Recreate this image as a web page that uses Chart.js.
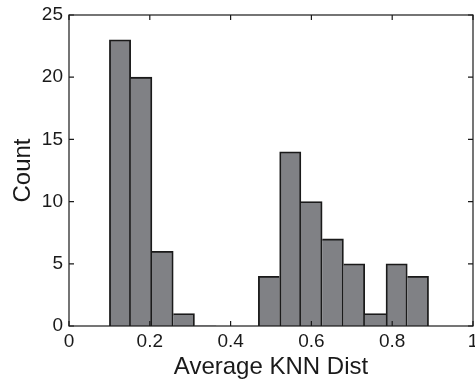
<!DOCTYPE html>
<html>
<head>
<meta charset="utf-8">
<script src="https://cdn.jsdelivr.net/npm/chart.js@4/dist/chart.umd.min.js"></script>
<style>
  html, body { margin: 0; padding: 0; background: #ffffff; }
  #wrap { width: 475px; height: 382px; }
</style>
</head>
<body>
<div id="wrap"><canvas id="c" width="475" height="382"></canvas></div>
<script>
// Histogram bins (centres of 15 equal bins from 0.1 to 0.89)
const binCenters = [0.1263, 0.1790, 0.2317, 0.2843, 0.3370, 0.3897, 0.4423, 0.4950,
                    0.5477, 0.6003, 0.6530, 0.7057, 0.7583, 0.8110, 0.8637];
const counts = [23, 20, 6, 1, 0, 0, 0, 4, 14, 10, 7, 5, 1, 5, 4];
const xTicks = [0, 0.2, 0.4, 0.6, 0.8, 1];
const yTicks = [0, 5, 10, 15, 20, 25];
const xTitle = 'Average KNN Dist';
const yTitle = 'Count';

const FONT = '"Liberation Sans", Arial, Helvetica, sans-serif';
const EDGE = '#1a1a1a';

const boxPlugin = {
  id: 'boxTicks',
  afterDatasetsDraw(chart) {
    const {ctx, chartArea: a, scales} = chart;
    const tl = 5;
    ctx.save();
    ctx.strokeStyle = EDGE;
    ctx.lineWidth = 1.2;
    ctx.beginPath();
    xTicks.forEach(v => {
      const px = scales.x.getPixelForValue(v);
      ctx.moveTo(px, a.bottom); ctx.lineTo(px, a.bottom - tl);
      ctx.moveTo(px, a.top); ctx.lineTo(px, a.top + tl);
    });
    yTicks.forEach(v => {
      const py = scales.y.getPixelForValue(v);
      ctx.moveTo(a.left, py); ctx.lineTo(a.left + tl, py);
      ctx.moveTo(a.right, py); ctx.lineTo(a.right - tl, py);
    });
    ctx.stroke();
    ctx.strokeRect(a.left, a.top, a.right - a.left, a.bottom - a.top);
    ctx.restore();
  }
};

function bw(ctx) {
  const i = ctx.dataIndex;
  const v = counts[i];
  const prev = i > 0 ? counts[i - 1] : 0;
  const next = i < counts.length - 1 ? counts[i + 1] : 0;
  const w = 1.8;
  return {
    top: w,
    bottom: 0,
    left: prev <= v ? w : 0,
    right: next < v ? w : 0
  };
}

new Chart(document.getElementById('c'), {
  type: 'bar',
  data: {
    datasets: [{
      data: binCenters.map((x, i) => ({x: x, y: counts[i]})),
      backgroundColor: '#808185',
      borderColor: EDGE,
      borderWidth: bw,
      borderSkipped: false,
      barPercentage: 1.0,
      categoryPercentage: 1.0
    }]
  },
  options: {
    responsive: false,
    animation: false,
    devicePixelRatio: 1,
    layout: { padding: { top: 15, right: 2, left: 0, bottom: 0 } },
    plugins: { legend: { display: false }, tooltip: { enabled: false } },
    scales: {
      x: {
        type: 'linear',
        min: 0, max: 1,
        offset: false,
        grid: { display: false, drawTicks: false },
        border: { display: false },
        afterBuildTicks(scale) { scale.ticks = xTicks.map(v => ({value: v})); },
        ticks: {
          autoSkip: false, maxRotation: 0,
          padding: 4,
          color: '#1a1a1a',
          font: { family: FONT, size: 19 },
          callback: v => String(v)
        },
        title: {
          display: true, text: xTitle, color: '#1a1a1a',
          font: { family: FONT, size: 24 },
          padding: { top: 0, bottom: 0 }
        },
        afterFit(scale) { scale.height = 56; scale.paddingRight = 0; scale.paddingLeft = 0; }
      },
      y: {
        min: 0, max: 25,
        grid: { display: false, drawTicks: false },
        border: { display: false },
        afterBuildTicks(scale) { scale.ticks = yTicks.map(v => ({value: v})); },
        ticks: {
          padding: 6,
          color: '#1a1a1a',
          font: { family: FONT, size: 19 },
          callback: v => String(v)
        },
        title: {
          display: true, text: yTitle, color: '#1a1a1a',
          font: { family: FONT, size: 24 },
          padding: { top: 9, bottom: 0 }
        },
        afterFit(scale) { scale.width = 69; scale.paddingTop = 0; scale.paddingBottom = 0; }
      }
    }
  },
  plugins: [boxPlugin]
});
</script>
</body>
</html>
